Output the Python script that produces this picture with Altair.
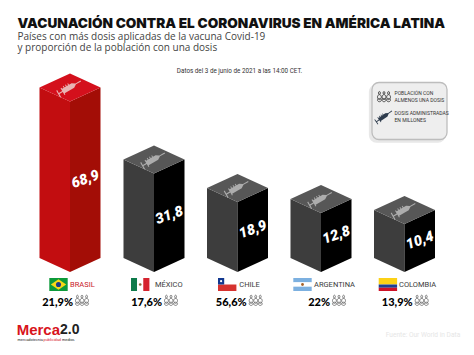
import altair as alt
import numpy as np
import pandas as pd

countries = ["BRASIL", "MÉXICO", "CHILE", "ARGENTINA", "COLOMBIA"]
doses = [68.9, 31.8, 18.9, 12.8, 10.4]
dose_labels = ["68,9", "31,8", "18,9", "12,8", "10,4"]
shares = ["21,9%", "17,6%", "56,6%", "22%", "13,9%"]

# layout (reference pixel space)
centers = [70, 154, 237.5, 321, 404.5]
flag_left = [49.3, 131, 218, 293.3, 378.7]
label_left = [70, 155, 239.3, 314, 399]
share_right = [73, 162, 246.7, 330, 412.7]
HALF_W, HALF_D, BASE_Y = 30.5, 14, 272
# value -> drawn height of the front edge: the source graphic is not to a single linear scale
scale_vals = [10.4, 12.8, 18.9, 31.8, 68.9]
scale_px = [48, 59, 70, 98.5, 170.5]

xs = alt.Scale(domain=[8, 466], range=[0, 458], nice=False, zero=False)
ys = alt.Scale(domain=[347, 8], range=[339, 0], nice=False, zero=False)
X = lambda f="x": alt.X(f"{f}:Q", scale=xs, axis=None)
Y = lambda f="y": alt.Y(f"{f}:Q", scale=ys, axis=None)

polys, tops, labels = [], [], []
for i, (c, v) in enumerate(zip(centers, doses)):
    h = float(np.interp(v, scale_vals, scale_px))
    front = BASE_Y - h
    red = i == 0
    cl, cr, ct = ("#c20d10", "#a30d06", "#d4101c") if red else ("#3d3d3d", "#000000", "#575757")
    l, r = c - HALF_W, c + HALF_W
    polys += [
        dict(id=f"{i}l", x=l, y=front - HALF_D, y2=BASE_Y - HALF_D, c=cl),
        dict(id=f"{i}l", x=c, y=front, y2=BASE_Y, c=cl),
        dict(id=f"{i}r", x=c, y=front, y2=BASE_Y, c=cr),
        dict(id=f"{i}r", x=r, y=front - HALF_D, y2=BASE_Y - HALF_D, c=cr),
        dict(id=f"{i}t", x=l, y=front - HALF_D, y2=front - HALF_D, c=ct),
        dict(id=f"{i}t", x=c, y=front - 2 * HALF_D, y2=front, c=ct),
        dict(id=f"{i}t", x=r, y=front - HALF_D, y2=front - HALF_D, c=ct),
    ]
    tops.append(dict(x=c - 0.5, y=front - HALF_D, c="#e8b4b4" if red else "#adadad"))
    labels.append(dict(x=c + 15.5, y=(front - HALF_D / 2 + BASE_Y - HALF_D / 2) / 2, t=dose_labels[i]))

faces = alt.Chart(pd.DataFrame(polys)).mark_area(interpolate="linear", strokeWidth=0).encode(
    x=X(), y=Y(), y2=alt.Y2("y2:Q"), color=alt.Color("c:N", scale=None), detail="id:N")

SYRINGE = ("M-1,-0.3H-0.92V-0.05H-0.62V-0.3H-0.54V-0.2H0.3L0.55,-0.04H1V0.04H0.55L0.3,0.2"
           "H-0.54V0.3H-0.62V0.05H-0.92V0.3H-1Z"
           "M-0.4,-0.2V-0.34H-0.33V-0.2Z M-0.2,-0.2V-0.34H-0.13V-0.2Z M0,-0.2V-0.34H0.07V-0.2Z")
syringes = alt.Chart(pd.DataFrame(tops)).mark_point(shape=SYRINGE, filled=True, size=680, angle=330, opacity=1, strokeWidth=0).encode(
    x=X(), y=Y(), color=alt.Color("c:N", scale=None))

def text(rows, **kw):
    return alt.Chart(pd.DataFrame(rows)).mark_text(**kw).encode(x=X(), y=Y(), text="t:N")

value_txt = text(labels, font="Roboto", fontWeight=900, fontStyle="italic", fontSize=14.5, color="white", angle=340, align="center", baseline="middle")

# flags
FY0, FY1, FW = 278, 291, 18.4
def stripes_h(i, cols, fracs):
    out, y = [], FY0
    for col, f in zip(cols, fracs):
        y2 = y + (FY1 - FY0) * f
        out.append(dict(x=flag_left[i], x2=flag_left[i] + FW, y=y, y2=y2, c=col))
        y = y2
    return out
flag_rects = []
flag_rects += stripes_h(0, ["#0c9a3a"], [1])
flag_rects += [dict(x=flag_left[1] + FW * k / 3, x2=flag_left[1] + FW * (k + 1) / 3, y=FY0, y2=FY1, c=col)
               for k, col in enumerate(["#0e7a4a", "#ffffff", "#d5232f"])]
flag_rects += stripes_h(2, ["#ffffff", "#d6322f"], [0.5, 0.5])
flag_rects.append(dict(x=flag_left[2], x2=flag_left[2] + 6.2, y=FY0, y2=FY0 + 6.5, c="#12388f"))
flag_rects += stripes_h(3, ["#7cb0e0", "#ffffff", "#7cb0e0"], [1 / 3, 1 / 3, 1 / 3])
flag_rects += stripes_h(4, ["#fcd116", "#1c3f94", "#ce1126"], [0.5, 0.25, 0.25])
flags = alt.Chart(pd.DataFrame(flag_rects)).mark_rect(strokeWidth=0).encode(
    x=X(), x2=alt.X2("x2:Q"), y=Y(), y2=alt.Y2("y2:Q"), color=alt.Color("c:N", scale=None))
fm = (FY0 + FY1) / 2
flag_dia = alt.Chart(pd.DataFrame([
    dict(x=flag_left[0] + 1.5, y=fm, y2=fm), dict(x=flag_left[0] + FW / 2, y=FY0 + 1.2, y2=FY1 - 1.2),
    dict(x=flag_left[0] + FW - 1.5, y=fm, y2=fm)])).mark_area(color="#f7d716", strokeWidth=0).encode(x=X(), y=Y(), y2=alt.Y2("y2:Q"))
flag_dots = alt.Chart(pd.DataFrame([
    dict(x=flag_left[0] + FW / 2, y=fm, c="#1c3a86", s=26),
    dict(x=flag_left[1] + FW / 2, y=fm, c="#8a6a3a", s=7),
    dict(x=flag_left[3] + FW / 2, y=fm, c="#a5622a", s=8),
    dict(x=flag_left[2] + 3.1, y=FY0 + 3.2, c="#ffffff", s=5),
])).mark_circle(opacity=1, strokeWidth=0).encode(x=X(), y=Y(), color=alt.Color("c:N", scale=None), size=alt.Size("s:Q", scale=None))

NARROW = "Roboto"
country_txt = alt.Chart(pd.DataFrame([
    dict(x=label_left[i], y=284.5, t=countries[i], c="#c8202a" if i == 0 else "#3a3a3a") for i in range(5)
])).mark_text(font=NARROW, fontSize=7.5, align="left", baseline="middle").encode(
    x=X(), y=Y(), text="t:N", color=alt.Color("c:N", scale=None))
share_txt = text([dict(x=share_right[i], y=302.5, t=shares[i]) for i in range(5)],
                 font="Lato", fontWeight=900, fontSize=11, color="#000000", align="right", baseline="middle")

def person(cx):
    return (f"M{cx - 0.13},-0.55A0.13,0.2 0 1 1 {cx + 0.13},-0.55A0.13,0.2 0 1 1 {cx - 0.13},-0.55Z"
            f"M{cx - 0.26},-0.02A0.26,0.3 0 1 1 {cx + 0.26},-0.02A0.26,0.38 0 1 1 {cx - 0.26},-0.02Z"
            f"M{cx - 0.26},0.42A0.26,0.22 0 1 1 {cx + 0.26},0.42A0.26,0.22 0 1 1 {cx - 0.26},0.42Z")
PEOPLE = person(-0.62) + person(0) + person(0.62)
icon_rows = [dict(x=share_right[i] + 9, y=300.7) for i in range(5)]
people = alt.Chart(pd.DataFrame(icon_rows)).mark_point(shape=PEOPLE, filled=False, size=218, stroke="#666666", strokeWidth=0.8, opacity=1).encode(x=X(), y=Y())
leg_people = alt.Chart(pd.DataFrame([dict(x=384, y=97)])).mark_point(shape=PEOPLE, filled=False, size=218, stroke="#444444", strokeWidth=0.9, opacity=1).encode(x=X(), y=Y())
leg_syringe = alt.Chart(pd.DataFrame([dict(x=384, y=116.5)])).mark_point(shape=SYRINGE, filled=True, size=380, angle=325, color="#2d3b4c", opacity=1, strokeWidth=0).encode(x=X(), y=Y())

legend_box = alt.Chart(pd.DataFrame([
    dict(x=369.5, x2=445, y=85, y2=142, c="#e8e8e8", s="#e8e8e8"),
    dict(x=372, x2=447, y=82.5, y2=139.5, c="#eeeeee", s="#bdbdbd"),
])).mark_rect(cornerRadius=7, strokeWidth=1.3).encode(
    x=X(), x2=alt.X2("x2:Q"), y=Y(), y2=alt.Y2("y2:Q"),
    color=alt.Color("c:N", scale=None), stroke=alt.Stroke("s:N", scale=None))
legend_txt = text([
    dict(x=394.5, y=93, t="POBLACIÓN CON"), dict(x=394.5, y=100.3, t="ALMENOS UNA DOSIS"),
    dict(x=394.5, y=112.5, t="DOSIS ADMINISTRADAS"), dict(x=394.5, y=119.5, t="EN MILLONES"),
], font=NARROW, fontSize=5, color="#333333", align="left", baseline="middle")

title = text([dict(x=17.5, y=24, t="VACUNACIÓN CONTRA EL CORONAVIRUS EN AMÉRICA LATINA")],
             font="Inter", fontWeight=900, fontSize=13.6, color="#111111", align="left", baseline="middle")
subtitle = text([dict(x=17.5, y=37, t="Países con más dosis aplicadas de la vacuna Covid-19"),
                 dict(x=17.5, y=48, t="y proporción de la población con una dosis")],
                font="Open Sans", fontSize=10, color="#444444", align="left", baseline="middle")
note = text([dict(x=239.5, y=70.5, t="Datos del 3 de junio de 2021 a las 14:00 CET.")],
            font="Roboto", fontSize=6.3, color="#333333", align="center", baseline="middle")
logo_r = text([dict(x=60, y=329.5, t="Merca")], font="Liberation Sans", fontWeight="bold", fontSize=15, color="#d8141c", align="right", baseline="middle")
logo_k = text([dict(x=60, y=329.5, t="2.0")], font="Liberation Sans", fontWeight="bold", fontSize=14, color="#222222", align="left", baseline="middle")
logo_s = text([dict(x=17.5, y=339.5, t="mercadotecnia")], font="Liberation Sans", fontSize=3.9, color="#222222", align="left", baseline="middle")
logo_s2 = text([dict(x=43.5, y=339.5, t="publicidad")], font="Liberation Sans", fontSize=3.9, color="#d8141c", align="left", baseline="middle")
logo_s3 = text([dict(x=62, y=339.5, t="medios")], font="Liberation Sans", fontSize=3.9, color="#222222", align="left", baseline="middle")
source = text([dict(x=385.7, y=335, t="Fuente: Our World in Data")], font="Roboto", fontSize=6.6, color="#e6e6e6", align="left", baseline="middle")

chart = alt.layer(
    faces, syringes, value_txt, flags, flag_dia, flag_dots, country_txt, share_txt, people,
    legend_box, legend_txt, leg_people, leg_syringe, title, subtitle, note,
    logo_r, logo_k, logo_s, logo_s2, logo_s3, source,
).properties(width=458, height=339, padding=0, autosize=alt.AutoSizeParams(type="none")).configure_view(stroke=None)

chart.save("out.html", embed_options={"renderer": "svg", "actions": False})
